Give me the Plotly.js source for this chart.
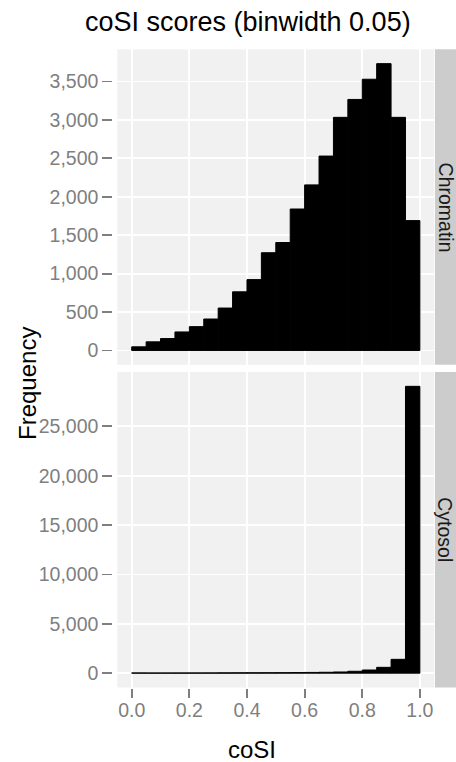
<!DOCTYPE html>
<html>
<head>
<meta charset="utf-8">
<script src="https://cdn.plot.ly/plotly-3.0.1.min.js"></script>
<style>
  html, body { margin: 0; padding: 0; background: #ffffff; }
  #chart { width: 456px; height: 762px; }
</style>
</head>
<body>
<div id="chart"></div>
<script>
// Histogram of coSI scores, one facet per cellular fraction (bins of width 0.05)
const binStart = [0.00, 0.05, 0.10, 0.15, 0.20, 0.25, 0.30, 0.35, 0.40, 0.45,
                  0.50, 0.55, 0.60, 0.65, 0.70, 0.75, 0.80, 0.85, 0.90, 0.95];
const binWidth = 0.05;

const chromatinCounts = [47, 112, 155, 241, 310, 409, 552, 763, 922, 1272,
                         1405, 1841, 2155, 2530, 3034, 3267, 3530, 3733, 3034, 1690];
const cytosolCounts = [25, 18, 20, 22, 25, 28, 30, 35, 40, 45,
                       50, 60, 75, 90, 120, 190, 320, 590, 1400, 29050];

const facetLabels = ['Chromatin', 'Cytosol'];
const xTickVals = [0.0, 0.2, 0.4, 0.6, 0.8, 1.0];
const xTickText = ['0.0', '0.2', '0.4', '0.6', '0.8', '1.0'];
const chromatinTicks = [0, 500, 1000, 1500, 2000, 2500, 3000, 3500];
const cytosolTicks = [0, 5000, 10000, 15000, 20000, 25000];

const W = 456, H = 762;
const px = p => p / W;          // horizontal pixel -> paper fraction
const py = p => 1 - p / H;      // vertical pixel (from top) -> paper fraction

// panel geometry in pixels
const panelLeft = 117.3, panelRight = 434.3;
const topPanel = [49.3, 364.8], bottomPanel = [372.0, 687.5];
const stripLeft = 435, stripRight = 456;

const FONT = 'Liberation Sans, Arial, Helvetica, sans-serif';
const tickGrey = '#7F7F7F';
const panelBg = '#F1F1F1';

// ggplot-style 5% expansion of the count scale
const expanded = arr => {
  const m = Math.max(...arr);
  return [-0.05 * m, 1.05 * m];
};

// a thin black outline keeps the very small bins visible as a line along zero
const barStyle = {
  type: 'bar',
  x: binStart,
  width: binWidth,
  offset: 0,
  marker: { color: '#000000', line: { color: '#000000', width: 1 } },
  hoverinfo: 'skip',
  showlegend: false
};

const traces = [
  Object.assign({}, barStyle, { y: chromatinCounts, xaxis: 'x', yaxis: 'y' }),
  Object.assign({}, barStyle, { y: cytosolCounts, xaxis: 'x2', yaxis: 'y2' })
];

const xCommon = {
  range: [-0.05, 1.05],
  domain: [px(panelLeft), px(panelRight)],
  tickvals: xTickVals,
  ticktext: xTickText,
  showgrid: true,
  gridcolor: '#FFFFFF',
  gridwidth: 1.8,
  zeroline: false,
  showline: false,
  automargin: false,
  fixedrange: true
};

const yCommon = {
  anchor: 'free',
  position: px(112.3),
  side: 'left',
  showgrid: true,
  gridcolor: '#FFFFFF',
  gridwidth: 1.8,
  zeroline: false,
  showline: false,
  ticks: 'outside',
  ticklen: 10,
  tickwidth: 1.8,
  tickcolor: tickGrey,
  tickformat: ',d',
  tickfont: { family: FONT, size: 19.5, color: tickGrey },
  automargin: false,
  fixedrange: true
};

const layout = {
  width: W,
  height: H,
  margin: { l: 0, r: 0, t: 0, b: 0, pad: 0 },
  paper_bgcolor: '#FFFFFF',
  plot_bgcolor: panelBg,
  bargap: 0,
  font: { family: FONT, color: '#000000' },
  xaxis: Object.assign({}, xCommon, {
    anchor: 'y',
    showticklabels: false,
    ticks: ''
  }),
  xaxis2: Object.assign({}, xCommon, {
    anchor: 'y2',
    ticks: 'outside',
    ticklen: 9,
    tickwidth: 1.8,
    tickcolor: tickGrey,
    ticklabelstandoff: -4,
    tickfont: { family: FONT, size: 19.5, color: tickGrey }
  }),
  yaxis: Object.assign({}, yCommon, {
    domain: [py(topPanel[1]), py(topPanel[0])],
    range: expanded(chromatinCounts),
    tickvals: chromatinTicks
  }),
  yaxis2: Object.assign({}, yCommon, {
    domain: [py(bottomPanel[1]), py(bottomPanel[0])],
    range: expanded(cytosolCounts),
    tickvals: cytosolTicks
  }),
  shapes: [
    { type: 'rect', xref: 'paper', yref: 'paper', layer: 'below',
      x0: px(stripLeft), x1: px(stripRight), y0: py(topPanel[1]), y1: py(topPanel[0]),
      fillcolor: '#CCCCCC', line: { width: 0 } },
    { type: 'rect', xref: 'paper', yref: 'paper', layer: 'below',
      x0: px(stripLeft), x1: px(stripRight), y0: py(bottomPanel[1]), y1: py(bottomPanel[0]),
      fillcolor: '#CCCCCC', line: { width: 0 } }
  ],
  annotations: [
    { text: 'coSI scores (binwidth 0.05)', xref: 'paper', yref: 'paper',
      x: px(247.5), y: py(22), xanchor: 'center', yanchor: 'middle', showarrow: false,
      font: { family: FONT, size: 27, color: '#000000' } },
    { text: 'coSI', xref: 'paper', yref: 'paper',
      x: px(252), y: py(749), xanchor: 'center', yanchor: 'middle', showarrow: false,
      font: { family: FONT, size: 24, color: '#000000' } },
    { text: 'Frequency', xref: 'paper', yref: 'paper', textangle: -90,
      x: px(27), y: py(384), xanchor: 'center', yanchor: 'middle', showarrow: false,
      font: { family: FONT, size: 24, color: '#000000' } },
    { text: facetLabels[0], xref: 'paper', yref: 'paper', textangle: 90,
      x: px((stripLeft + stripRight) / 2), y: py((topPanel[0] + topPanel[1]) / 2),
      xanchor: 'center', yanchor: 'middle', showarrow: false,
      font: { family: FONT, size: 19.5, color: '#1A1A1A' } },
    { text: facetLabels[1], xref: 'paper', yref: 'paper', textangle: 90,
      x: px((stripLeft + stripRight) / 2), y: py((bottomPanel[0] + bottomPanel[1]) / 2),
      xanchor: 'center', yanchor: 'middle', showarrow: false,
      font: { family: FONT, size: 19.5, color: '#1A1A1A' } }
  ]
};

Plotly.newPlot('chart', traces, layout, { staticPlot: true, displayModeBar: false });
</script>
</body>
</html>
